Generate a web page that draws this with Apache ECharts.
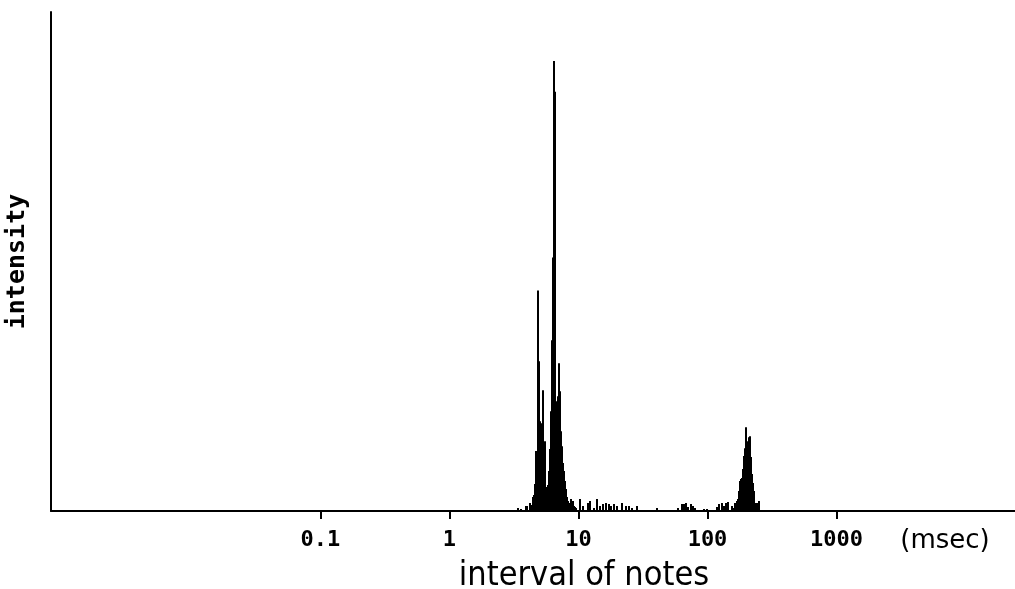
<!DOCTYPE html>
<html>
<head>
<meta charset="utf-8">
<script src="https://cdn.jsdelivr.net/npm/echarts@6.0.0/dist/echarts.min.js"></script>
<style>
  html, body { margin: 0; padding: 0; background: #fff; }
  #chart { width: 1015px; height: 589px; }
</style>
</head>
<body>
<div id="chart"></div>
<script>
// Bin centres (msec) of the note-interval histogram
const intervalMs = [
  3.43, 3.62, 3.89, 3.96, 4.03, 4.18, 4.33,
  4.41, 4.49, 4.57, 4.65, 4.73, 4.82, 4.90, 4.99, 5.08, 5.17, 5.27, 5.36, 5.46, 5.55,
  5.65, 5.76, 5.86, 5.96, 6.07, 6.18, 6.29, 6.40, 6.52, 6.64, 6.76, 6.88, 7.00, 7.13,
  7.26, 7.39, 7.52, 7.65, 7.79, 7.93, 8.07, 8.22, 8.37, 8.52, 8.67, 8.83, 8.99, 9.15,
  9.31, 9.48, 9.65,
  10.36, 10.93, 11.95, 12.39, 13.30, 14.03, 14.80, 15.62, 16.47, 17.38, 18.01, 18.99,
  20.05, 21.91, 23.53, 24.82, 26.18, 28.62, 40.9,
  59.4, 63.8, 66.1, 68.5, 71.0, 74.9, 77.7, 80.5, 94.5, 99.7,
  119.1, 123.4, 130.2, 134.9, 139.8, 144.9, 155.6, 158.4,
  164.2, 167.1, 170.1, 173.2, 176.3, 179.5, 182.7, 186.0, 189.3, 192.7, 196.2, 199.7,
  203.3, 207.0, 210.7, 214.5, 218.3, 222.2, 226.2, 230.3, 234.4, 242.9, 251.7
];
// Intensity (arbitrary units) for each bin
const intensity = [
  3, 2, 5, 5, 4, 8, 6,
  14, 16, 27, 30, 60, 95, 221, 150, 90, 88, 95, 121, 70, 35,
  24, 22, 26, 40, 62, 100, 171, 254, 451, 420, 110, 104, 115, 148,
  120, 80, 65, 48, 40, 30, 22, 14, 10, 8, 7, 12, 5, 10,
  5, 4, 3,
  12, 5, 8, 10, 3, 12, 5, 7, 8, 7, 5, 7,
  5, 8, 5, 5, 3, 5, 3,
  3, 7, 7, 8, 4, 7, 5, 3, 2, 2,
  4, 7, 8, 5, 8, 9, 5, 3,
  8, 8, 10, 12, 20, 30, 32, 33, 42, 55, 63, 84,
  70, 65, 74, 75, 54, 37, 28, 20, 8, 8, 10
];
const tickValues = [0.1, 1, 10, 100, 1000];
const tickLabels = ['0.1', '1', '10', '100', '1000'];
const axisMin = 0.000819;
const axisMax = 24130;

const chart = echarts.init(document.getElementById('chart'), null, { renderer: 'canvas' });
const data = intervalMs.map((v, i) => [v, intensity[i]]);

// pixel layout of the plot
const gLeft = 51, gRight = 0, gTop = 12, gBottom = 78;
const plotW = 1015 - gLeft - gRight;
const pxPerDecade = plotW / (Math.log10(axisMax) - Math.log10(axisMin));
const tickLeft = gLeft + (Math.log10(tickValues[0]) - Math.log10(axisMin)) * pxPerDecade;
const tickRight = gLeft + (Math.log10(tickValues[tickValues.length - 1]) - Math.log10(axisMin)) * pxPerDecade;

chart.setOption({
  animation: false,
  backgroundColor: '#ffffff',
  grid: [
    { left: gLeft, right: gRight, top: gTop, bottom: gBottom, outerBoundsMode: 'none', containLabel: false },
    { left: tickLeft, right: 1015 - tickRight, top: gTop, bottom: gBottom, outerBoundsMode: 'none', containLabel: false }
  ],
  xAxis: [{
    type: 'log',
    gridIndex: 0,
    logBase: 10,
    min: axisMin,
    max: axisMax,
    axisLine: { show: true, onZero: false, lineStyle: { color: '#000', width: 2 } },
    axisTick: { show: false },
    axisLabel: { show: false },
    splitLine: { show: false },
    minorTick: { show: false }
  }, {
    type: 'log',
    gridIndex: 1,
    logBase: 10,
    min: tickValues[0],
    max: tickValues[tickValues.length - 1],
    splitNumber: 4,
    axisLine: { show: false, onZero: false },
    axisTick: { show: true, inside: false, length: 8, lineStyle: { color: '#000', width: 2 } },
    axisLabel: {
      show: true,
      margin: 18,
      color: '#000',
      fontFamily: 'DejaVu Sans Mono',
      fontWeight: 'bold',
      fontSize: 22,
      formatter: function (val) {
        let best = 0;
        for (let i = 1; i < tickValues.length; i++) {
          if (Math.abs(Math.log10(tickValues[i]) - Math.log10(val)) <
              Math.abs(Math.log10(tickValues[best]) - Math.log10(val))) best = i;
        }
        return tickLabels[best];
      }
    },
    splitLine: { show: false },
    minorTick: { show: false }
  }],
  yAxis: [{
    type: 'value',
    gridIndex: 0,
    min: 0,
    max: 500,
    name: 'intensity',
    nameLocation: 'middle',
    nameGap: 21,
    nameRotate: 90,
    nameTextStyle: { color: '#000', fontFamily: 'DejaVu Sans Mono', fontWeight: 'bold', fontSize: 25 },
    axisLine: { show: true, lineStyle: { color: '#000', width: 2 } },
    axisTick: { show: false },
    axisLabel: { show: false },
    splitLine: { show: false }
  }, {
    type: 'value',
    gridIndex: 1,
    min: 0,
    max: 500,
    show: false
  }],
  series: [{
    type: 'custom',
    xAxisIndex: 0,
    yAxisIndex: 0,
    data: data,
    renderItem: function (params, api) {
      const top = api.coord([api.value(0), api.value(1)]);
      const base = api.coord([api.value(0), 0]);
      const x = Math.round(top[0]) - 1;
      return {
        type: 'rect',
        shape: { x: x, y: top[1], width: 2, height: base[1] - top[1] },
        style: { fill: '#000' }
      };
    }
  }],
  graphic: [
    { type: 'text', x: 945, y: 541,
      style: { text: '(msec)', fill: '#000', font: '26px "DejaVu Sans"', textAlign: 'center', textVerticalAlign: 'middle' } },
    { type: 'text', x: 584, y: 576,
      style: { text: 'interval of notes', fill: '#000', font: '34px "DejaVu Sans Condensed", "Liberation Sans Narrow", "DejaVu Sans"', textAlign: 'center', textVerticalAlign: 'middle' } }
  ]
});
</script>
</body>
</html>
